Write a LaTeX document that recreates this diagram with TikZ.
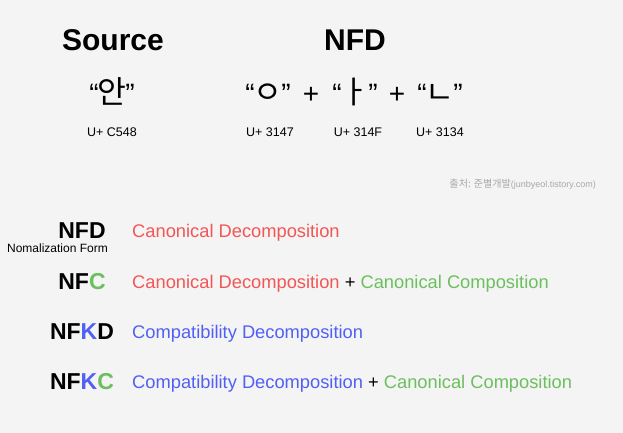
\documentclass[tikz,border=0pt]{standalone}
\usepackage{fontspec}
\setmainfont{Liberation Sans}
\newfontfamily\kofont[Scale=1.12]{Noto Sans CJK KR}
\usetikzlibrary{positioning}
\definecolor{bgcol}{HTML}{F4F4F4}
\definecolor{canon}{HTML}{F25656}
\definecolor{compo}{HTML}{6CBF5E}
\definecolor{compat}{HTML}{5060F5}
\definecolor{credit}{HTML}{A8A8A8}
\newcommand{\jamo}[1]{“\kern-1pt{\kofont #1}\kern-1pt\char"22}

\begin{document}
\begin{tikzpicture}[
  x=1pt,y=-1pt,
  inner sep=0pt,
  title/.style={font=\fontsize{30}{30}\selectfont\bfseries,anchor=base},
  glyph/.style={font=\fontsize{28}{28}\selectfont,anchor=base},
  code/.style={font=\fontsize{12.5}{12.5}\selectfont,anchor=base},
  form/.style={font=\fontsize{23}{23}\selectfont\bfseries,anchor=base},
  desc/.style={font=\fontsize{18.3}{18.3}\selectfont,anchor=base west},
]
\fill[bgcol] (0,0) rectangle (623,433);

% top: source and decomposed jamo
\node[title] (src) at (113,51) {Source};
\node[title] (nfd) at (355,51) {NFD};

\node[glyph] (an) at (112,104) {\jamo{안}};
\node[glyph] (ieung) at (268,104) {\jamo{ㅇ}};
\node[glyph] (plusa) at (311,104) {+};
\node[glyph] (a) at (355,104) {\jamo{ㅏ}};
\node[glyph] (plusb) at (397,104) {+};
\node[glyph] (nieun) at (440,104) {\jamo{ㄴ}};

\node[code] (ucan) at (112,136) {U+ C548};
\node[code] (ucieung) at (270,136) {U+ 3147};
\node[code] (uca) at (358,136) {U+ 314F};
\node[code] (ucnieun) at (440,136) {U+ 3134};

\node[font=\fontsize{9}{9}\selectfont,text=credit,anchor=base east] (cite) at (596,187)
  {{\kofont 출처: 준별개발}(junbyeol.tistory.com)};

% normalization forms
\node[form] (fd) at (82,238) {NFD};
\node[font=\fontsize{12}{12}\selectfont,anchor=base] (fdnote) at (57.5,252) {Nomalization Form};
\node[form] (fc) at (82,289) {NF\textcolor{compo}{C}};
\node[form] (fkd) at (82,339) {NF\textcolor{compat}{K}D};
\node[form] (fkc) at (82,389) {NF\textcolor{compat}{K}\textcolor{compo}{C}};

\node[desc,text=canon] (dfd) at (132,237) {Canonical Decomposition};
\node[desc] (dfc) at (132,288)
  {\textcolor{canon}{Canonical Decomposition} + \textcolor{compo}{Canonical Composition}};
\node[desc,text=compat] (dfkd) at (132,338) {Compatibility Decomposition};
\node[desc] (dfkc) at (132,388)
  {\textcolor{compat}{Compatibility Decomposition} + \textcolor{compo}{Canonical Composition}};
\end{tikzpicture}
\end{document}
